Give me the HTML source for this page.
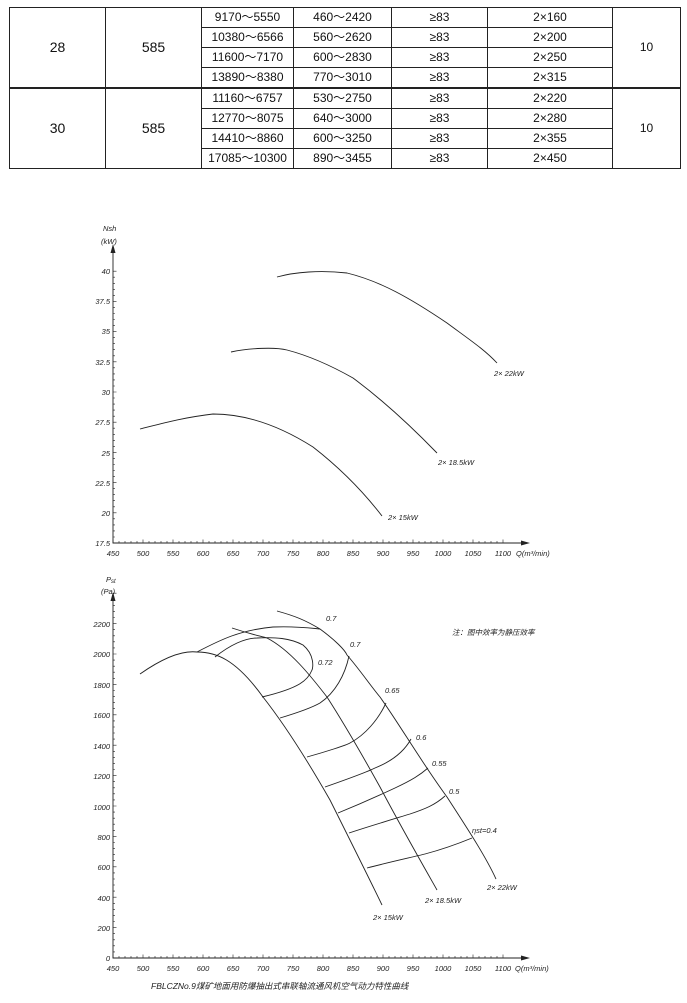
<!DOCTYPE html>
<html><head><meta charset="utf-8"><style>
body{margin:0;background:#fff;width:687px;height:1003px;overflow:hidden;font-family:"Liberation Sans","Noto Sans CJK SC",sans-serif}
table{position:absolute;left:9px;top:7px;border-collapse:collapse;font-size:12px;color:#111}
td{border:1px solid #222;text-align:center;padding:0;height:19px;line-height:19px}
.big{font-size:14px}
.thick td.t{border-top:2px solid #222}
svg{position:absolute;left:0;top:0}
svg text{font-family:"Liberation Sans","Noto Sans CJK SC",sans-serif;font-style:italic;fill:#222}
</style></head><body>
<table>
<colgroup><col style="width:96px"><col style="width:96px"><col style="width:92px"><col style="width:98px"><col style="width:96px"><col style="width:125px"><col style="width:68px"></colgroup>
<tr><td rowspan="4" class="big">28</td><td rowspan="4" class="big">585</td><td>9170～5550</td><td>460～2420</td><td>≥83</td><td>2×160</td><td rowspan="4">10</td></tr>
<tr><td>10380～6566</td><td>560～2620</td><td>≥83</td><td>2×200</td></tr>
<tr><td>11600～7170</td><td>600～2830</td><td>≥83</td><td>2×250</td></tr>
<tr><td>13890～8380</td><td>770～3010</td><td>≥83</td><td>2×315</td></tr>
<tr class="thick"><td rowspan="4" class="big t">30</td><td rowspan="4" class="big t">585</td><td class="t">11160～6757</td><td class="t">530～2750</td><td class="t">≥83</td><td class="t">2×220</td><td rowspan="4" class="t">10</td></tr>
<tr><td>12770～8075</td><td>640～3000</td><td>≥83</td><td>2×280</td></tr>
<tr><td>14410～8860</td><td>600～3250</td><td>≥83</td><td>2×355</td></tr>
<tr><td>17085～10300</td><td>890～3455</td><td>≥83</td><td>2×450</td></tr>
</table>
<svg width="687" height="1003" viewBox="0 0 687 1003">
<g fill="none" stroke="#222" stroke-width="0.9">
<path d="M113 247V543H527"/><path d="M113 595V958H527"/>
<path id="t1" stroke-width="0.6"/><path id="t2" stroke-width="0.6"/>
<path d="M140 429C160 424 180 418 213 414C247 414 280 426 313 447C340 468 362 490 382 516"/>
<path d="M231 352C250 348 275 347 287 350C310 356 330 365 353 378C380 398 405 420 437 453"/>
<path d="M277 277C295 272 320 270 347 273C380 281 410 298 447 323C470 340 485 350 497 363"/>
<path d="M140 674C160 660 180 650 197 652C215 652 235 658 263 697C285 725 310 765 330 800C350 840 370 880 382 905"/>
<path d="M232 628C250 634 260 636 267 638C290 650 310 675 327 697C345 725 365 760 380 787C400 825 420 860 437 890"/>
<path d="M277 611C295 616 305 620 320 629C335 640 345 650 347 655C360 670 370 685 380 697C400 725 420 760 447 797C465 825 485 855 496 879"/>
<path d="M197 652C220 640 240 630 273 627C295 626 310 628 320 629"/>
<path d="M215 657C230 645 245 638 257 638C275 637 290 638 303 645C315 655 313 668 312 670C308 680 300 688 262 697"/>
<path d="M280 718C300 712 313 707 320 703C335 693 345 675 349 656"/>
<path d="M307 757C325 752 347 745 350 743C365 735 378 720 386 703"/>
<path d="M325 787C345 780 365 773 375 768C395 760 405 750 411 739"/>
<path d="M338 813C360 804 380 795 395 788C412 780 420 775 428 768"/>
<path d="M349 833C370 826 397 818 410 814C425 809 435 805 445 796"/>
<path d="M367 868C390 862 413 857 425 854C440 850 455 845 472 838"/>
</g>
<g fill="#222"><path d="M113 244l-2.5 9h5z"/><path d="M113 592l-2.5 9h5z"/><path d="M530 543l-9-2.5v5z"/><path d="M530 958l-9-2.5v5z"/></g>
<g font-size="7.5">
<text x="103" y="231">Nsh</text><text x="101" y="244">(kW)</text>
<g text-anchor="end"><text x="110" y="274">40</text><text x="110" y="304">37.5</text><text x="110" y="334">35</text><text x="110" y="365">32.5</text><text x="110" y="395">30</text><text x="110" y="425">27.5</text><text x="110" y="456">25</text><text x="110" y="486">22.5</text><text x="110" y="516">20</text><text x="110" y="546">17.5</text></g>
<g text-anchor="middle"><text x="113" y="556">450</text><text x="143" y="556">500</text><text x="173" y="556">550</text><text x="203" y="556">600</text><text x="233" y="556">650</text><text x="263" y="556">700</text><text x="293" y="556">750</text><text x="323" y="556">800</text><text x="353" y="556">850</text><text x="383" y="556">900</text><text x="413" y="556">950</text><text x="443" y="556">1000</text><text x="473" y="556">1050</text><text x="503" y="556">1100</text></g>
<text x="516" y="556">Q(m³/min)</text>
<text x="494" y="376">2× 22kW</text><text x="438" y="465">2× 18.5kW</text><text x="388" y="520">2× 15kW</text>
<text x="106" y="582">P<tspan font-size="6" dy="1">st</tspan></text><text x="101" y="594">(Pa)</text>
<g text-anchor="end"><text x="110" y="627">2200</text><text x="110" y="657">2000</text><text x="110" y="688">1800</text><text x="110" y="718">1600</text><text x="110" y="749">1400</text><text x="110" y="779">1200</text><text x="110" y="810">1000</text><text x="110" y="840">800</text><text x="110" y="870">600</text><text x="110" y="901">400</text><text x="110" y="931">200</text><text x="110" y="961">0</text></g>
<g text-anchor="middle"><text x="113" y="971">450</text><text x="143" y="971">500</text><text x="173" y="971">550</text><text x="203" y="971">600</text><text x="233" y="971">650</text><text x="263" y="971">700</text><text x="293" y="971">750</text><text x="323" y="971">800</text><text x="353" y="971">850</text><text x="383" y="971">900</text><text x="413" y="971">950</text><text x="443" y="971">1000</text><text x="473" y="971">1050</text><text x="503" y="971">1100</text></g>
<text x="515" y="971">Q(m³/min)</text>
<text x="326" y="621">0.7</text><text x="350" y="647">0.7</text><text x="318" y="665">0.72</text><text x="385" y="693">0.65</text><text x="416" y="740">0.6</text><text x="432" y="766">0.55</text><text x="449" y="794">0.5</text><text x="472" y="833">ηst=0.4</text>
<text x="487" y="890">2× 22kW</text><text x="425" y="903">2× 18.5kW</text><text x="373" y="920">2× 15kW</text>
<text x="452" y="635" font-style="normal" font-size="7.5">注：图中效率为静压效率</text>
<text x="151" y="989" font-size="8.5">FBLCZNo.9煤矿地面用防爆抽出式串联轴流通风机空气动力特性曲线</text>
</g>
</svg>
<script>
var a="",b="";
for(var i=0;i<=65;i++){var x=113+i*6,l=i%5?2:3.5;a+="M"+x+" 543v-"+l;b+="M"+x+" 958v-"+l;}
for(var j=0;j<=45;j++){var y=543-j*6.04,l=j%5?2:3.5;a+="M113 "+y.toFixed(1)+"h"+l;}
for(var k=0;k<=60;k++){var y=958-k*6.08,l=k%5?2:3.5;b+="M113 "+y.toFixed(1)+"h"+l;}
document.getElementById("t1").setAttribute("d",a);document.getElementById("t2").setAttribute("d",b);
</script>
</body></html>
